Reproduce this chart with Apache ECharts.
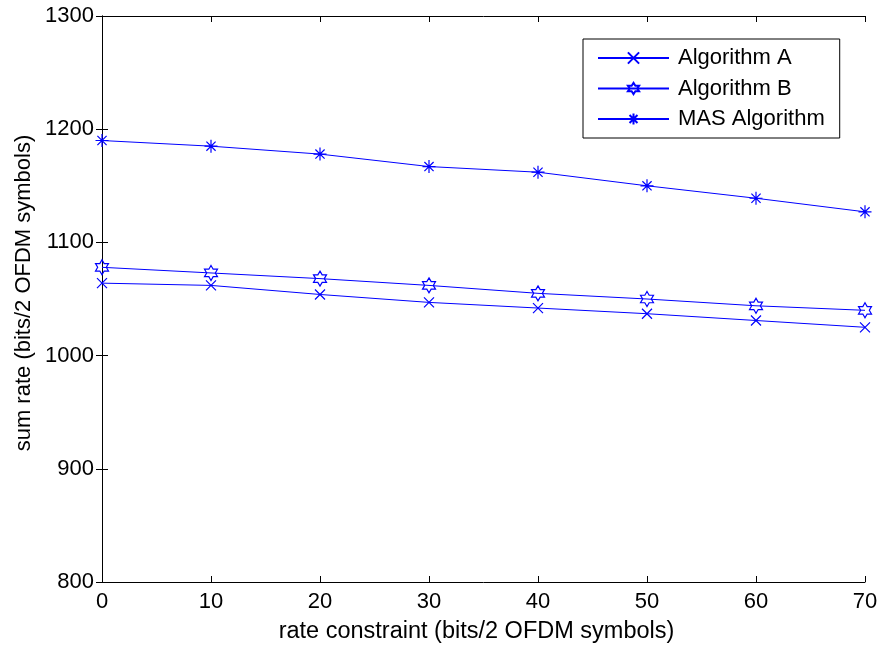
<!DOCTYPE html>
<html>
<head>
<meta charset="utf-8">
<script src="https://cdn.jsdelivr.net/npm/echarts@6/dist/echarts.min.js"></script>
<style>
  html, body { margin: 0; padding: 0; background: #fff; }
  #chart { width: 881px; height: 645px; }
</style>
</head>
<body>
<div id="chart"></div>
<script>
const rateConstraint = [0, 10, 20, 30, 40, 50, 60, 70];
const algoA = [1064, 1062, 1054, 1047, 1042, 1037, 1031, 1025];
const algoB = [1078, 1073, 1068, 1062, 1055, 1050, 1044, 1040];
const masAlgo = [1190, 1185, 1178, 1167, 1162, 1150, 1139, 1127];

const fontFam = '"Liberation Sans", Arial, sans-serif';
const blue = '#0000ff';

// marker shapes like the matlab ones
const crossPath = 'path://M-10,-10L10,10M10,-10L-10,10';
const hexPath = 'path://M0,-10L2.887,-5L8.66,-5L5.77,0L8.66,5L2.887,5L0,10L-2.887,5L-8.66,5L-5.77,0L-8.66,-5L-2.887,-5Z';
const starPath = 'path://M0,-10L0,10M-10,0L10,0M-7.07,-7.07L7.07,7.07M-7.07,7.07L7.07,-7.07';

const toPairs = arr => arr.map((v, i) => [rateConstraint[i], v]);

function serie(name, values, symbol, size) {
  return {
    name: name,
    type: 'line',
    data: toPairs(values),
    symbol: symbol,
    symbolSize: size,
    symbolKeepAspect: true,
    showAllSymbol: true,
    lineStyle: { color: blue, width: 1 },
    itemStyle: { color: 'none', borderColor: blue, borderWidth: 1.2 },
    emphasis: { disabled: true },
    animation: false
  };
}

const chart = echarts.init(document.getElementById('chart'));
chart.setOption({
  animation: false,
  grid: { left: 102, right: 16, top: 16, bottom: 63, containLabel: false, outerBoundsMode: 'none' },
  legend: {
    orient: 'vertical',
    left: 583,
    top: 39,
    padding: [8, 15, 8, 14],
    itemWidth: 71,
    itemHeight: 14,
    itemGap: 8.5,
    borderColor: '#000',
    borderWidth: 1,
    backgroundColor: '#fff',
    textStyle: { fontFamily: fontFam, fontSize: 22, color: '#000', lineHeight: 22, padding: [0, 0, 0, 4] },
    data: ['Algorithm A', 'Algorithm B', 'MAS Algorithm']
  },
  xAxis: [{
    type: 'value',
    min: 0, max: 70, interval: 10,
    name: 'rate constraint (bits/2 OFDM symbols)',
    nameLocation: 'middle',
    nameGap: 38,
    nameMoveOverlap: false,
    nameTextStyle: { fontFamily: fontFam, fontSize: 23.5, color: '#000', padding: [0, 14, 0, 0] },
    axisLine: { lineStyle: { color: '#000', width: 1 } },
    axisTick: { inside: true, length: 6, lineStyle: { color: '#000' } },
    axisLabel: { fontFamily: fontFam, fontSize: 22, color: '#000', margin: 9 },
    splitLine: { show: false }
  }, {
    type: 'value', position: 'top',
    min: 0, max: 70, interval: 10,
    axisLine: { lineStyle: { color: '#000', width: 1 } },
    axisTick: { inside: true, length: 6, lineStyle: { color: '#000' } },
    axisLabel: { show: false },
    splitLine: { show: false }
  }],
  yAxis: [{
    type: 'value',
    min: 800, max: 1300, interval: 100,
    name: 'sum rate (bits/2 OFDM symbols)',
    nameLocation: 'middle',
    nameGap: 67,
    nameMoveOverlap: false,
    nameTextStyle: { fontFamily: fontFam, fontSize: 22, color: '#000', padding: [0, 0, 0, 12] },
    axisLine: { show: true, lineStyle: { color: '#000', width: 1 } },
    axisTick: { inside: true, length: 6, lineStyle: { color: '#000' } },
    axisLabel: { fontFamily: fontFam, fontSize: 22, color: '#000', margin: 8, formatter: v => String(v) },
    splitLine: { show: false }
  }, {
    type: 'value', position: 'right',
    min: 800, max: 1300, interval: 100,
    axisLine: { show: true, lineStyle: { color: '#000', width: 1 } },
    axisTick: { inside: true, length: 6, lineStyle: { color: '#000' } },
    axisLabel: { show: false },
    splitLine: { show: false }
  }],
  series: [
    serie('Algorithm A', algoA, crossPath, 10),
    serie('Algorithm B', algoB, hexPath, 15),
    serie('MAS Algorithm', masAlgo, starPath, 13)
  ]
});
</script>
</body>
</html>
